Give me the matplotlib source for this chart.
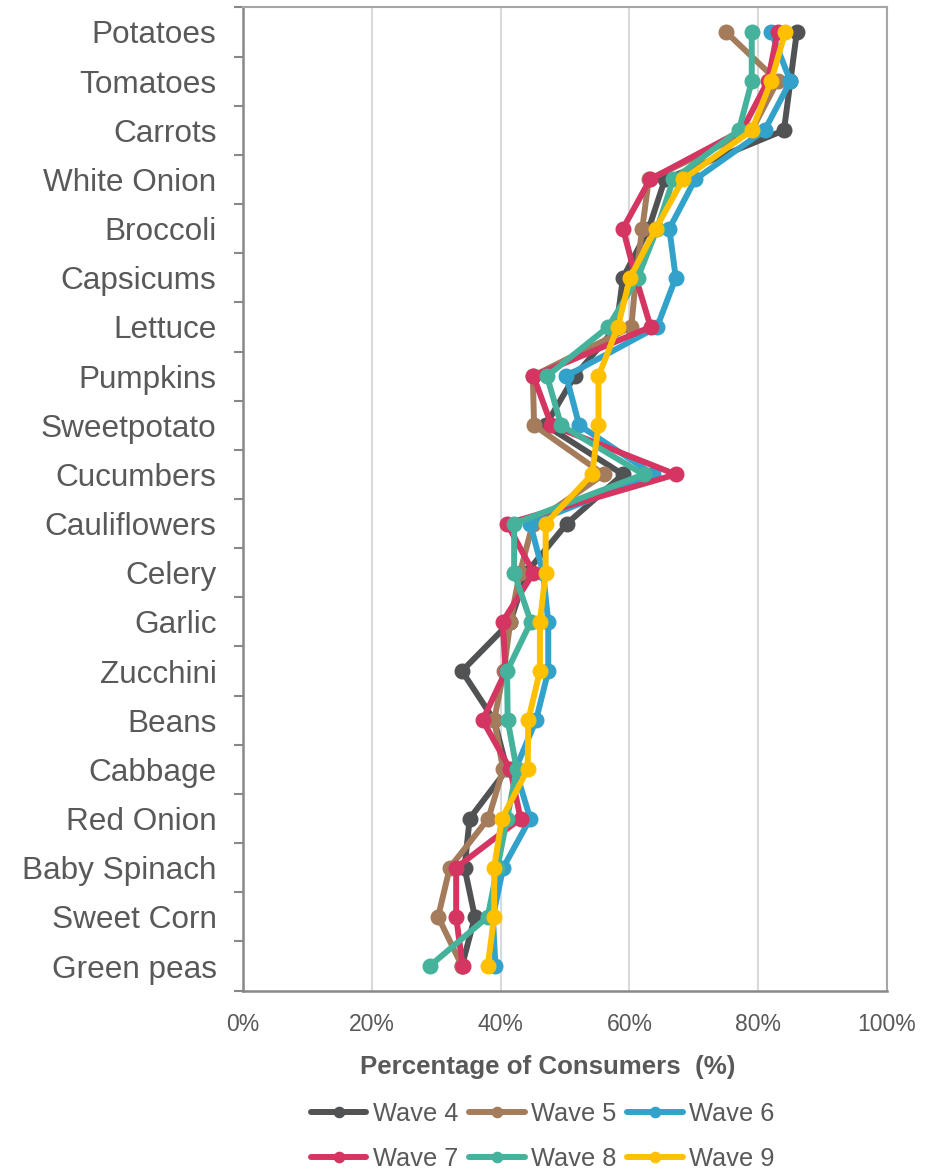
import matplotlib.pyplot as plt
from matplotlib.ticker import FixedLocator, PercentFormatter

# ---- data (percent of consumers) ----
vegetables = ['Potatoes', 'Tomatoes', 'Carrots', 'White Onion', 'Broccoli',
              'Capsicums', 'Lettuce', 'Pumpkins', 'Sweetpotato', 'Cucumbers',
              'Cauliflowers', 'Celery', 'Garlic', 'Zucchini', 'Beans',
              'Cabbage', 'Red Onion', 'Baby Spinach', 'Sweet Corn', 'Green peas']

wave4 = [86, 85, 84, 65.5, 63, 59, 58, 51.5, 47, 59, 50.3, 44, 41.5, 34, 39, 41, 35.2, 34.4, 36, 34]
wave5 = [75, 83, 79, 63, 62, 61, 60.3, 45, 45.2, 56, 45, 43, 41.5, 40.5, 39, 40.4, 38.1, 32.1, 30.3, 34]
wave6 = [82, 85, 81, 70.2, 66.2, 67.2, 64.3, 50.2, 52.2, 63.7, 44.6, 46.6, 47.4, 47.4, 45.5, 42.3, 44.6, 40.4, 38.8, 39.2]
wave7 = [83, 81.5, 77.5, 63.2, 59, 61, 63.3, 45.1, 47.9, 67.2, 41, 45.1, 40.3, 40.8, 37.2, 41.5, 43.1, 33.1, 33.1, 34.1]
wave8 = [79, 79, 77, 66.8, 64.3, 61.3, 56.7, 47.2, 49.4, 62.2, 42.1, 42.1, 44.7, 41, 41.1, 42.5, 41, 39.5, 38, 29]
wave9 = [84.2, 82, 79, 68.3, 64.1, 60.1, 58.2, 55.2, 55.2, 54.2, 47, 47, 46.1, 46.1, 44.3, 44.2, 40.2, 39, 39, 38]

series = [('Wave 4', wave4, '#505254'),
          ('Wave 5', wave5, '#a47c5c'),
          ('Wave 6', wave6, '#33a2cb'),
          ('Wave 7', wave7, '#d43561'),
          ('Wave 8', wave8, '#45b29b'),
          ('Wave 9', wave9, '#ffc000')]

txt_color = '#595959'
plt.rcParams['font.family'] = ['Liberation Sans', 'DejaVu Sans']

fig = plt.figure(figsize=(9.44, 11.73), dpi=100)
ax = fig.add_axes([243 / 944, 1 - 990.6 / 1173, (887 - 243) / 944, (990.6 - 7.4) / 1173])

ypos = list(range(len(vegetables)))
handles = []
for name, vals, col in series:
    h, = ax.plot(vals, ypos, color=col, lw=4.3, marker='o', markersize=10.5,
                 label=name, solid_joinstyle='round', solid_capstyle='round')
    handles.append(h)

ax.set_xlim(0, 100)
ax.set_ylim(len(vegetables) - 0.5, -0.5)

ax.set_xticks([0, 20, 40, 60, 80, 100])
ax.xaxis.set_major_formatter(PercentFormatter(decimals=0))
ax.xaxis.set_minor_locator(FixedLocator([0, 100]))
ax.tick_params(axis='x', which='major', length=0, pad=16, labelsize=16.5, labelcolor=txt_color)
ax.tick_params(axis='x', which='minor', length=5, width=1.5, color='#888888')
ax.grid(axis='x', color='#d9d9d9', lw=1.5)
ax.set_axisbelow(True)

ax.set_yticks(ypos)
ax.set_yticklabels(vegetables)
ax.yaxis.set_minor_locator(FixedLocator([i - 0.5 for i in range(len(vegetables) + 1)]))
ax.tick_params(axis='y', which='major', length=0, pad=19, labelsize=22.7, labelcolor=txt_color)
ax.tick_params(axis='y', which='minor', length=6.5, width=1.5, color='#888888')

for side in ['left', 'bottom']:
    ax.spines[side].set_color('#888888')
    ax.spines[side].set_linewidth(1.8)
for side in ['top', 'right']:
    ax.spines[side].set_color('#a6a6a6')
    ax.spines[side].set_linewidth(1.5)

ax.set_xlabel('Percentage of Consumers  (%)', fontsize=18.6, fontweight='bold',
              color=txt_color)
ax.xaxis.set_label_coords((548 - 243) / 644, -(1067 - 990.6) / 983.2, transform=ax.transAxes)
ax.xaxis.label.set_va('center')

# legend: row 1 = waves 4-6, row 2 = waves 7-9 (matplotlib fills column-wise)
order = [0, 3, 1, 4, 2, 5]
fig.legend([handles[i] for i in order], [handles[i].get_label() for i in order],
           loc='center', bbox_to_anchor=(543 / 944, 1 - 1136.5 / 1173), ncol=3,
           frameon=False, fontsize=18.3, labelcolor=txt_color, markerscale=0.7,
           handlelength=2.17, handletextpad=0.26, columnspacing=0.43,
           labelspacing=0.8)

fig.savefig('out.png', dpi=100)
